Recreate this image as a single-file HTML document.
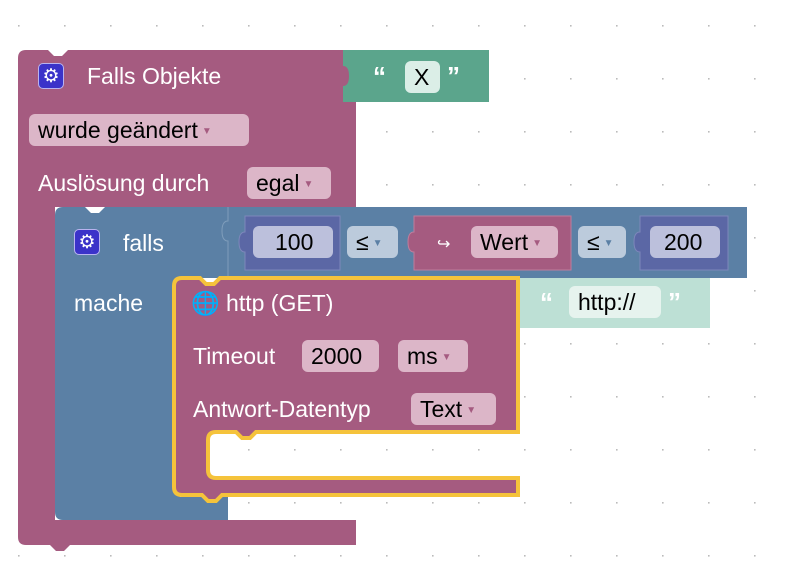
<!DOCTYPE html>
<html><head><meta charset="utf-8"><style>
body{margin:0;width:790px;height:564px;overflow:hidden;background:#fff;font-family:"Liberation Sans",sans-serif;position:relative}
.a{position:absolute}
.t{position:absolute;color:#fff;font-size:23px;line-height:30px;white-space:nowrap}
.f{position:absolute;border-radius:6px;color:#000;font-size:23px;line-height:32px;height:32px;text-align:left;padding-left:9px;box-sizing:border-box;white-space:nowrap}
.dd{font-size:10px;vertical-align:middle;margin-left:4px}
.g{position:absolute;width:26px;height:26px;border-radius:5px;background:#3b33c9;border:1px solid #b9b3f0;color:#fff;font-size:19px;line-height:26px;text-align:center;box-sizing:border-box}
</style></head><body>
<svg class="a" style="left:0;top:0" width="790" height="564">
<defs><pattern id="p" x="18" y="25" width="46" height="53" patternUnits="userSpaceOnUse"><rect width="1.6" height="1.6" fill="#bbb"/></pattern></defs>
<rect width="790" height="564" fill="url(#p)"/>
<path d="M26 50 H48 l6 6 h8 l6 -6 H356 V207 H55 V520 H356 V545 H70 l-6 6 h-8 l-6 -6 H26 q-8 0 -8 -8 V58 q0 -8 8 -8z" fill="#a55b80"/>
<path d="M343 50 H489 V102 H343 V86 q6 0 6 -10 q0 -10 -6 -10z" fill="#5ba58c"/>
<path d="M63 207 H85 l6 6 h8 l6 -6 H747 V278 H228 V278 H180 V497 H228 V520 H63 q-8 0 -8 -8 V215 q0 -8 8 -8z" fill="#5b80a5"/>
<path d="M228 207 v14 q-6 0 -6 10 q0 10 6 10 V278" stroke="#7f9dbb" fill="none"/>
<path d="M245 216 H340 V270 H245 V252 q-6 0 -6 -10 q0 -10 6 -10z" fill="#5b67a5" stroke="#7d87bb"/>
<path d="M414 216 H571 V270 H414 V252 q-6 0 -6 -10 q0 -10 6 -10z" fill="#a55b80" stroke="#c07d9c"/>
<path d="M640 216 H728 V270 H640 V252 q-6 0 -6 -10 q0 -10 6 -10z" fill="#5b67a5" stroke="#7d87bb"/>
<path d="M518 278 H710 V328 H518 V314 q-6 0 -6 -10 q0 -10 6 -10z" fill="#bde0d5"/>
<path d="M182 278 H200 l6 6 h8 l6 -6 H518 V432 H256 l-6 6 h-8 l-6 -6 H216 q-8 0 -8 8 V470 q0 8 8 8 H518 V495 H222 l-6 6 h-8 l-6 -6 H182 q-8 0 -8 -8 V286 q0 -8 8 -8z" fill="#a55b80" stroke="#f5c33b" stroke-width="4"/>
</svg>
<div class="g" style="left:38px;top:63px">⚙</div>
<div class="t" style="left:87px;top:61px">Falls Objekte</div>
<div class="t" style="left:373px;top:61px;font-weight:bold;font-size:26px">“</div>
<div class="f" style="left:405px;top:61px;width:35px;background:#dbeee7">X</div>
<div class="t" style="left:447px;top:61px;font-weight:bold;font-size:26px">”</div>
<div class="f" style="left:29px;top:114px;width:220px;background:#dcb6c8">wurde geändert<span class="dd" style="color:#a55b80">▼</span></div>
<div class="t" style="left:38px;top:168px">Auslösung durch</div>
<div class="f" style="left:247px;top:167px;width:84px;background:#dcb6c8">egal<span class="dd" style="color:#a55b80">▼</span></div>
<div class="g" style="left:74px;top:229px">⚙</div>
<div class="t" style="left:123px;top:228px">falls</div>
<div class="t" style="left:74px;top:288px">mache</div>
<div class="f" style="left:253px;top:226px;width:80px;background:#bcc0dc;padding-left:22px">100</div>
<div class="f" style="left:347px;top:226px;width:51px;background:#bccbdc">≤<span class="dd" style="color:#5b80a5">▼</span></div>
<div class="t" style="left:437px;top:230px;font-size:16px">↪</div>
<div class="f" style="left:471px;top:226px;width:87px;background:#dcb6c8">Wert<span class="dd" style="color:#a55b80">▼</span></div>
<div class="f" style="left:578px;top:226px;width:48px;background:#bccbdc">≤<span class="dd" style="color:#5b80a5">▼</span></div>
<div class="f" style="left:650px;top:226px;width:70px;background:#bcc0dc;padding-left:14px">200</div>
<div class="t" style="left:191px;top:288px">🌐 http (GET)</div>
<div class="t" style="left:540px;top:287px;font-weight:bold;font-size:26px">“</div>
<div class="f" style="left:569px;top:286px;width:92px;background:#e6f3ee">http://</div>
<div class="t" style="left:668px;top:287px;font-weight:bold;font-size:26px">”</div>
<div class="t" style="left:193px;top:341px">Timeout</div>
<div class="f" style="left:302px;top:340px;width:77px;background:#dcb6c8">2000</div>
<div class="f" style="left:398px;top:340px;width:70px;background:#dcb6c8">ms<span class="dd" style="color:#a55b80">▼</span></div>
<div class="t" style="left:193px;top:394px">Antwort-Datentyp</div>
<div class="f" style="left:411px;top:393px;width:85px;background:#dcb6c8">Text<span class="dd" style="color:#a55b80">▼</span></div>
</body></html>
